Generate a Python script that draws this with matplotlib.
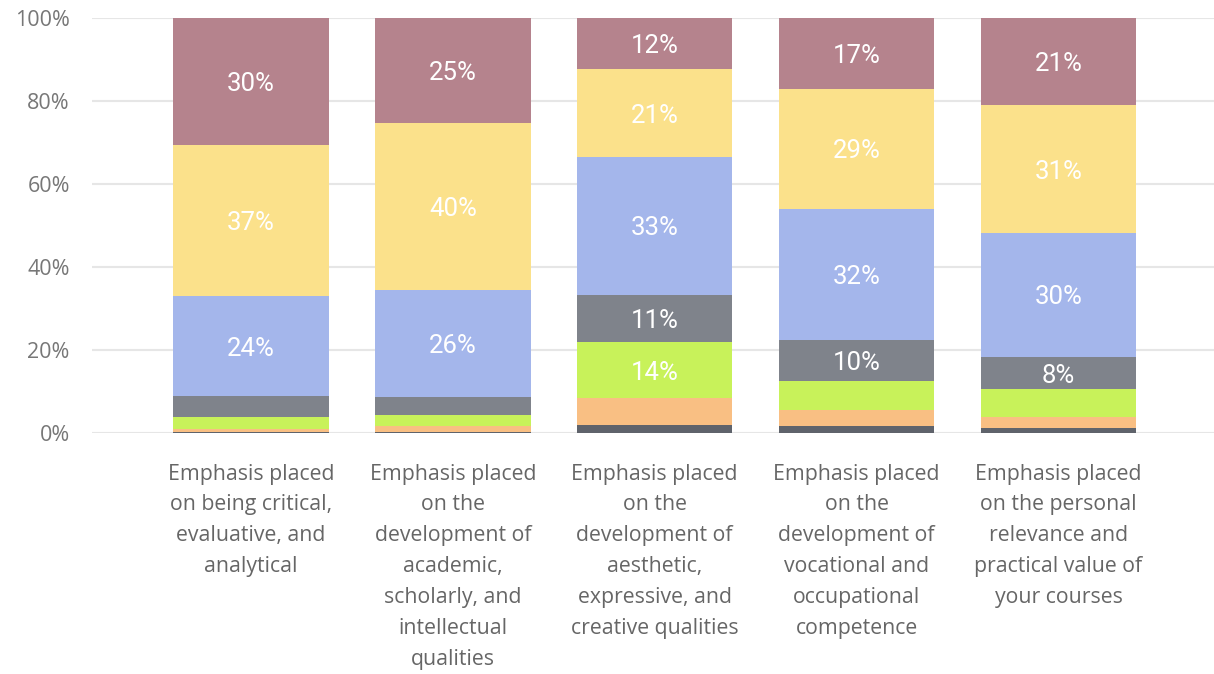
import numpy as np
import matplotlib.pyplot as plt

categories = [
    "Emphasis placed\non being critical,\nevaluative, and\nanalytical",
    "Emphasis placed\non the\ndevelopment of\nacademic,\nscholarly, and\nintellectual\nqualities",
    "Emphasis placed\non the\ndevelopment of\naesthetic,\nexpressive, and\ncreative qualities",
    "Emphasis placed\non the\ndevelopment of\nvocational and\noccupational\ncompetence",
    "Emphasis placed\non the personal\nrelevance and\npractical value of\nyour courses",
]

# stacked from bottom to top
very_little = [0.3, 0.3, 2.0, 1.7, 1.2]
little = [0.6, 1.4, 6.4, 3.8, 2.7]
some = [2.9, 2.7, 13.5, 7.0, 6.7]
neutral = [5.1, 4.3, 11.4, 9.9, 7.7]
quite = [24.0, 25.8, 33.2, 31.6, 29.9]
much = [36.6, 40.2, 21.2, 28.9, 30.8]
very_much = [30.5, 25.3, 12.3, 17.1, 21.0]

series = [very_little, little, some, neutral, quite, much, very_much]
colors = ["#5f636b", "#f9bf83", "#c8f25a", "#7f838b", "#a4b6eb", "#fbe18b", "#b5838d"]

fig = plt.figure(figsize=(12.14, 6.74), dpi=100)
ax = fig.add_axes([0.0758, 0.3576, 0.9242, 0.6157])

x = np.arange(len(categories))
bottom = np.zeros(len(categories))
for vals, col in zip(series, colors):
    vals = np.array(vals)
    ax.bar(x, vals, 0.77, bottom=bottom, color=col, zorder=2)
    for xi, v, b in zip(x, vals, bottom):
        if v >= 7.5:
            ax.text(xi, b + v / 2, f"{round(v):.0f}%", ha="center", va="center_baseline",
                    color="white", fontsize=18.5, family="Roboto", zorder=3)
    bottom += vals

ax.set_xlim(-0.787, 4.77)
ax.set_ylim(0, 100)
ax.set_yticks([0, 20, 40, 60, 80, 100])
ax.set_yticklabels([f"{t}%" for t in [0, 20, 40, 60, 80, 100]])
ax.yaxis.grid(True, color="#e6e6e6", linewidth=1.5, zorder=0)
for s in ax.spines.values():
    s.set_visible(False)
ax.tick_params(axis="y", length=0, pad=16, labelsize=15.5, labelcolor="#777777")
ax.tick_params(axis="x", length=0, pad=22)
ax.set_xticks(x)
ax.set_xticklabels(categories, fontsize=15.3, color="#666666", family="Open Sans",
                   linespacing=1.62, va="top")
for lab in ax.get_yticklabels():
    lab.set_family("Open Sans")

fig.savefig("out.png", dpi=100)
